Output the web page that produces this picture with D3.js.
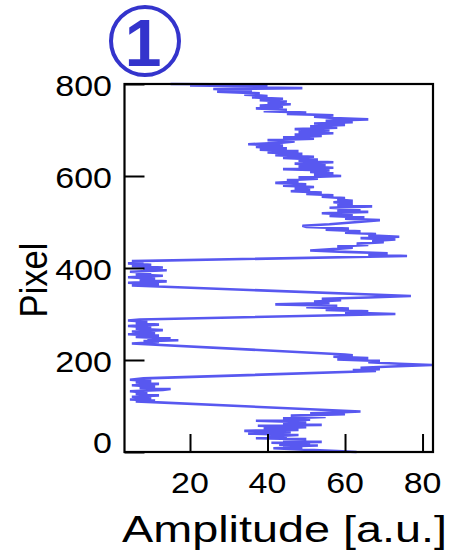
<!DOCTYPE html>
<html>
<head>
<meta charset="utf-8">
<script src="https://cdn.jsdelivr.net/npm/d3@7"></script>
<style>
  html, body { margin: 0; padding: 0; background: #fff; }
  svg { display: block; }
  text { font-family: "Liberation Sans", Arial, Helvetica, sans-serif; fill: #000; }
</style>
</head>
<body>
<svg id="chart" width="453" height="550"></svg>
<script>
// ---- data (pixel position, amplitude) ----
const pixels = [
  0,2,4,6,8,10,12,14,16,18,20,22,25,28,30,32,34,37,40,43,46,48,51,54,57,59,62,65,68,70,73,76,79,82,84,86,88,
  110,112,114,117,120,123,126,129,132,135,137,139,142,145,148,151,154,157,160,
  176,178,180,183,186,189,192,195,198,201,204,207,210,212,
  236,239,241,243,245,247,250,253,256,259,262,265,268,271,274,277,280,283,286,288,
  300,303,306,309,312,315,318,321,324,327,330,333,336,339,
  362,365,368,371,374,377,380,383,386,389,392,395,398,401,404,407,410,413,415,
  426,429,432,435,438,441,444,447,450,453,456,459,462,465,468,471,474,477,480,483,486,489,492,495,498,501,504,507,510,513,516,519,522,525,528,531,534,537,540,
  543,546,549,552,555,558,561,564,567,570,573,576,579,582,585,588,591,594,597,600,603,606,609,612,615,618,621,624,627,630,633,636,639,642,645,648,651,654,657,660,663,666,669,672,
  675,678,681,684,687,690,693,696,699,702,705,708,711,714,717,720,723,726,729,732,735,738,741,744,747,750,753,756,759,762,765,768,771,774,777,780,783,786,789,791,793,795,797,799,800
];
const amplitudes = [
  63,58,52,47,41.5,49,44,53,43,51,41,54,44,50,37,45,40,48,35,46,34,48,39,50,37.5,54,44,50,37,51,44,55,46,60,51,58,64,
  6,11,4.5,10,5,12,6,9,4.5,13,15,7,11,5,12,6,10,4.5,8,
  68,62,69,64,72,82.5,74,66,69,58,66,57,62,60,
  5,12,8,17,9,15,6,12,4,11,5,13,6,10,4,12,6,9,4,7,
  73,60,66,55,61,50,58,42,56,52,59,54,66,77,
  5,12,4,14,7,11,4,13,6,10,4.5,14,8,13,5,10,4,8,5,
  76,66,71,60,51,57,62,58,66,63,70,67,73,64,74,66,68,60,64,55,61,50,49,56,60,65,69,60,65,56,62,54,66,58,64,56,67,58,62,
  57,62,58,60,54,57,50,54,46,51,47,52,44,50,42,48,45,53,48,59,52,57,51,56,44,57,48,55,47,57,48,53,44,52,42,49,40,48,38,45,37,44,35,43,
  47,40,52,44,54,47,57,48,56,47,58,51,60,52,62,55,66,57,52,57,45,50,39,45,37,44,38,46,40,45,38,44,36,40,34,38,27,36,26,49,32,40,20,37,15
];
const xTicks = [20, 40, 60, 80];
const yTicks = [0, 200, 400, 600, 800];
const xDomain = [3.1, 82.7];
const yDomain = [0, 800];
const xLabel = "Amplitude [a.u.]";
const yLabel = "Pixel";
const badge = "1";

// ---- layout ----
const svg = d3.select("#chart");
const L = 124.5, R = 433, T = 84, B = 452;
const x = d3.scaleLinear().domain(xDomain).range([L, R]);
const y = d3.scaleLinear().domain(yDomain).range([B, T]);
const SY = 0.885; // vertical squash of the reference text

const data = pixels.map((p, i) => ({ p, a: amplitudes[i] }));

// trace
const line = d3.line().x(d => x(d.a)).y(d => y(d.p));
svg.append("path")
  .datum(data)
  .attr("d", line)
  .attr("fill", "none")
  .attr("stroke", "#5858f0")
  .attr("stroke-width", 2.6)
  .attr("stroke-linejoin", "miter")
  .attr("stroke-miterlimit", 3);

// frame
svg.append("rect")
  .attr("x", L).attr("y", T)
  .attr("width", R - L).attr("height", B - T)
  .attr("fill", "none").attr("stroke", "#000").attr("stroke-width", 2.2);

// x axis ticks (inward) + labels
const xAxis = d3.axisBottom(x).tickValues(xTicks).tickSize(-18).tickFormat("");
const gx = svg.append("g").attr("transform", `translate(0,${B})`).call(xAxis);
gx.select(".domain").remove();
gx.selectAll(".tick line").attr("stroke", "#000").attr("stroke-width", 2);

svg.selectAll(".xlab").data(xTicks).enter().append("text")
  .attr("class", "xlab")
  .attr("transform", d => `translate(${x(d)},${B + 41}) scale(1,${SY})`)
  .attr("text-anchor", "middle")
  .attr("font-size", 34)
  .text(d => d);

// y axis ticks (inward) + labels
const yAxis = d3.axisLeft(y).tickValues(yTicks).tickSize(-20).tickFormat("");
const gy = svg.append("g").attr("transform", `translate(${L},0)`).call(yAxis);
gy.select(".domain").remove();
gy.selectAll(".tick line").attr("stroke", "#000").attr("stroke-width", 2);

svg.selectAll(".ylab").data(yTicks).enter().append("text")
  .attr("class", "ylab")
  .attr("transform", d => `translate(112,${y(d) + (d === 0 ? 1 : 12)}) scale(1,${SY})`)
  .attr("text-anchor", "end")
  .attr("font-size", 34)
  .text(d => d);

// axis titles
svg.append("text")
  .attr("transform", `translate(122,542) scale(1,${SY})`)
  .attr("font-size", 42.5)
  .attr("textLength", 325)
  .attr("lengthAdjust", "spacingAndGlyphs")
  .text(xLabel);

svg.append("text")
  .attr("transform", `translate(47,280) rotate(-90) scale(${SY},1)`)
  .attr("text-anchor", "middle")
  .attr("font-size", 39)
  .text(yLabel);

// circled number badge
svg.append("circle")
  .attr("cx", 145).attr("cy", 41).attr("r", 34)
  .attr("fill", "none").attr("stroke", "#3434cc").attr("stroke-width", 4);
svg.append("text")
  .attr("x", 143).attr("y", 66)
  .attr("text-anchor", "middle")
  .attr("font-size", 66)
  .attr("font-weight", "bold")
  .style("fill", "#3434cc")
  .text(badge);
</script>
</body>
</html>
